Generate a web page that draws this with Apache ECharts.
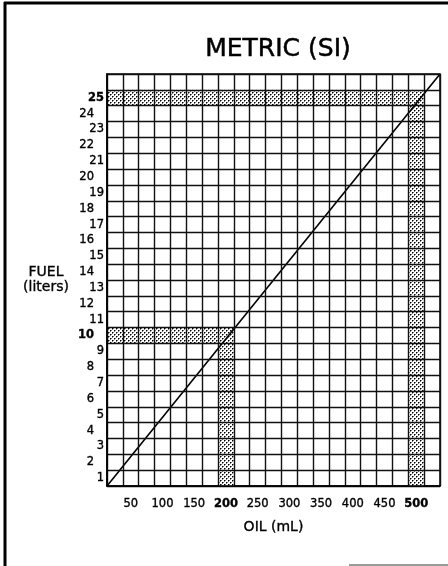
<!DOCTYPE html>
<html>
<head>
<meta charset="utf-8">
<style>
  html, body { margin: 0; padding: 0; background: #fff; }
  #chart { width: 448px; height: 566px; }
</style>
<script src="https://cdn.jsdelivr.net/npm/echarts@6/dist/echarts.min.js"></script>
</head>
<body>
<div id="chart"></div>
<script>
// ---- data ----
const oilCategories = ['25','50','75','100','125','150','175','200','225','250','275','300','325','350','375','400','425','450','475','500','525'];
const oilTickLabels = ['50','100','150','200','250','300','350','400','450','500'];
const fuelCategories = ['1','2','3','4','5','6','7','8','9','10','11','12','13','14','15','16','17','18','19','20','21','22','23','24','25','26'];
const fuelTickLabels = ['1','2','3','4','5','6','7','8','9','10','11','12','13','14','15','16','17','18','19','20','21','22','23','24','25'];
const highlightOil = [200, 500];
const highlightFuel = [10, 25];
const titleText = 'METRIC (SI)';
const xTitle = 'OIL (mL)';
const yTitle = 'FUEL\n(liters)';

// ---- scales derived from categories ----
const oilNums = oilCategories.map(Number);
const fuelNums = fuelCategories.map(Number);
const oilStep = oilNums[1] - oilNums[0];
const fuelStep = fuelNums[1] - fuelNums[0];
const oilMin = oilNums[0] - oilStep / 2, oilMax = oilNums[oilNums.length - 1] + oilStep / 2;
const fuelMin = fuelNums[0] - fuelStep / 2, fuelMax = fuelNums[fuelNums.length - 1] + fuelStep / 2;
// diagonal conversion line spans the chart corner to corner
const lineData = [[oilMin, fuelMin], [oilMax, fuelMax]];

// stipple pattern
const pat = document.createElement('canvas');
pat.width = 4; pat.height = 4;
const pc = pat.getContext('2d');
pc.fillStyle = '#ffffff'; pc.fillRect(0, 0, 4, 4);
pc.fillStyle = '#000'; pc.fillRect(0, 0, 1, 1); pc.fillRect(2, 2, 1, 1);
pc.fillStyle = '#777'; pc.fillRect(1, 0, 1, 1); pc.fillRect(0, 1, 1, 1); pc.fillRect(3, 2, 1, 1); pc.fillRect(2, 3, 1, 1);
const stipple = { image: pat, repeat: 'repeat' };

const areas = [];
highlightOil.forEach((o, i) => {
  const f = highlightFuel[i];
  areas.push([{ coord: [oilMin, f - fuelStep / 2] }, { coord: [o + oilStep / 2, f + fuelStep / 2] }]);
  areas.push([{ coord: [o - oilStep / 2, fuelMin] }, { coord: [o + oilStep / 2, f - fuelStep / 2] }]);
});

const FONT = 'DejaVu Sans';
const thick = { textBorderColor: '#000', textBorderWidth: 0.35 };
const chart = echarts.init(document.getElementById('chart'));
chart.setOption({
  animation: false,
  backgroundColor: '#fff',
  title: {
    text: titleText, left: 273, top: 32, textAlign: 'center',
    textStyle: Object.assign({ fontFamily: FONT, fontSize: 25, fontWeight: 'normal', color: '#000' }, { textBorderColor: '#000', textBorderWidth: 0.5 })
  },
  grid: { left: 107, right: 8, top: 74, bottom: 80, show: true, borderColor: '#000', borderWidth: 1.5, backgroundColor: 'transparent' },
  xAxis: [{
    type: 'category', data: oilCategories, boundaryGap: true, z: 10,
    name: xTitle, nameLocation: 'middle', nameGap: 34,
    nameTextStyle: Object.assign({ fontFamily: FONT, fontSize: 14, color: '#000' }, thick),
    axisLine: { lineStyle: { color: '#000', width: 1.5 } },
    axisTick: { show: false },
    splitLine: { show: true, interval: 0, lineStyle: { color: '#111', width: 1.4 } },
    axisLabel: {
      interval: 0, margin: 12, color: '#000', fontFamily: FONT, fontSize: 11.5,
      formatter: v => oilTickLabels.includes(v) ? (highlightOil.includes(Number(v)) ? '{b|' + v + '}' : '{n|' + v + '}') : '',
      rich: {
        n: Object.assign({ fontFamily: FONT, fontSize: 11.5, color: '#000' }, thick),
        b: Object.assign({ fontFamily: FONT, fontSize: 11.5, fontWeight: 'bold', color: '#000' }, thick)
      }
    }
  }, {
    type: 'value', show: false, min: oilMin, max: oilMax
  }],
  yAxis: [{
    type: 'category', data: fuelCategories, boundaryGap: true, z: 10,
    name: yTitle, nameLocation: 'middle', nameGap: 61, nameRotate: 0,
    nameTextStyle: Object.assign({ fontFamily: FONT, fontSize: 14, color: '#000', align: 'center', verticalAlign: 'middle', lineHeight: 15 }, thick),
    axisLine: { lineStyle: { color: '#000', width: 1.5 } },
    axisTick: { show: false },
    splitLine: { show: true, interval: 0, lineStyle: { color: '#111', width: 1.4 } },
    axisLabel: {
      interval: 0, margin: 3, color: '#000', fontFamily: FONT, fontSize: 11.5,
      formatter: v => {
        if (!fuelTickLabels.includes(v)) return '';
        const n = Number(v);
        const style = (highlightFuel.includes(n) ? 'b' : 'n') + (n % 2 === 0 ? 'e' : 'o');
        return '{' + style + '|' + v + '}';
      },
      rich: {
        no: Object.assign({ fontFamily: FONT, fontSize: 11.5, color: '#000' }, thick),
        ne: Object.assign({ fontFamily: FONT, fontSize: 11.5, color: '#000', padding: [0, 10, 0, 0] }, thick),
        bo: Object.assign({ fontFamily: FONT, fontSize: 11.5, fontWeight: 'bold', color: '#000' }, thick),
        be: Object.assign({ fontFamily: FONT, fontSize: 11.5, fontWeight: 'bold', color: '#000', padding: [0, 10, 0, 0] }, thick)
      }
    }
  }, {
    type: 'value', show: false, min: fuelMin, max: fuelMax
  }],
  series: [{
    type: 'line', xAxisIndex: 1, yAxisIndex: 1, data: lineData,
    symbol: 'none', lineStyle: { color: '#000', width: 1.6 }, z: 5,
    markArea: { silent: true, itemStyle: { color: stipple, borderWidth: 0 }, data: areas }
  }],
  graphic: [
    { type: 'line', shape: { x1: 4, y1: 3, x2: 448, y2: 3 }, style: { stroke: '#000', lineWidth: 3 } },
    { type: 'line', shape: { x1: 5, y1: 2, x2: 5, y2: 566 }, style: { stroke: '#000', lineWidth: 3 } },
    { type: 'line', shape: { x1: 349, y1: 565, x2: 448, y2: 565 }, style: { stroke: '#999', lineWidth: 2 } }
  ]
});
</script>
</body>
</html>
